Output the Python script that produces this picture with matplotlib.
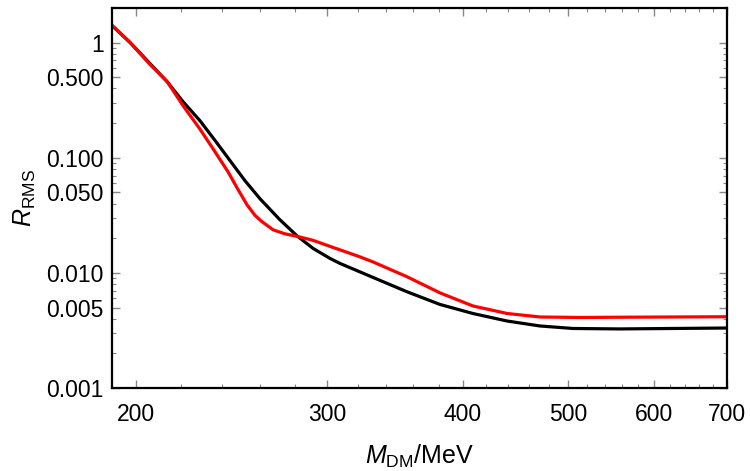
import numpy as np
import matplotlib
matplotlib.use('Agg')
import matplotlib.pyplot as plt
from matplotlib.ticker import FixedLocator, NullFormatter

plt.rcParams['font.family'] = ['Liberation Sans', 'DejaVu Sans']
plt.rcParams['mathtext.fontset'] = 'custom'
plt.rcParams['mathtext.rm'] = 'Liberation Sans'
plt.rcParams['mathtext.it'] = 'Liberation Sans:italic'

# black curve
mass_black = [190.1, 197.5, 206, 213.6, 220.9, 229, 236.9, 244.1, 251.95, 260.1, 271.3,
              281.3, 291, 301.6, 308.1, 330.4, 355.4, 380.9, 408.4, 439.1, 470.7,
              504.8, 557.1, 700]
rrms_black = [1.405, 1.0, 0.657, 0.458, 0.307, 0.2097, 0.1377, 0.0942, 0.0631, 0.0440,
              0.0289, 0.02098, 0.01633, 0.01337, 0.01209, 0.00914, 0.00684, 0.00532,
              0.00444, 0.00382, 0.00346, 0.00329, 0.00326, 0.00332]

# red curve
mass_red = [190.1, 197.5, 206, 213.6, 220.9, 229, 235.4, 243, 247.7, 253, 257.3, 261.2,
            267.4, 274.2, 281.3, 291, 301.6, 308.1, 321.4, 330.4, 355.4, 380.9, 408.4,
            439.1, 470.7, 512.3, 557.1, 700]
rrms_red = [1.405, 1.0, 0.644, 0.458, 0.2833, 0.1769, 0.1197, 0.0755, 0.0548, 0.0390,
            0.0316, 0.0278, 0.02365, 0.02183, 0.02077, 0.01917, 0.01700, 0.01585,
            0.01378, 0.01246, 0.00923, 0.00670, 0.00516, 0.00444, 0.00414, 0.00410,
            0.00412, 0.00416]

xticks = [200, 300, 400, 500, 600, 700]
yticks = [0.001, 0.005, 0.01, 0.05, 0.1, 0.5, 1]
ylabels = ['0.001', '0.005', '0.010', '0.050', '0.100', '0.500', '1']

fig = plt.figure(figsize=(7.5, 4.71), dpi=100)
ax = fig.add_axes([0.1493, 0.1762, 0.82, 0.8068])

ax.plot(mass_black, rrms_black, color='black', lw=2.3, solid_joinstyle='round')
ax.plot(mass_red, rrms_red, color='red', lw=2.3, solid_joinstyle='round')

ax.set_xscale('log')
ax.set_yscale('log')
ax.set_xlim(190, 700)
ax.set_ylim(0.001, 2.0)

ax.xaxis.set_major_locator(FixedLocator(xticks))
ax.set_xticklabels([str(t) for t in xticks])
ax.xaxis.set_minor_locator(FixedLocator([m for m in range(200, 701, 20) if m % 100]))
ax.xaxis.set_minor_formatter(NullFormatter())

ax.yaxis.set_major_locator(FixedLocator(yticks))
ax.set_yticklabels(ylabels)
yminor = [k * 10.0 ** e for e in range(-3, 1) for k in range(2, 10) if k != 5]
ax.yaxis.set_minor_locator(FixedLocator(yminor))
ax.yaxis.set_minor_formatter(NullFormatter())

ax.tick_params(which='both', direction='in', top=True, right=True, labelsize=16.5,
               color='#888888')
ax.tick_params(which='major', length=6, width=1.0)
ax.tick_params(which='minor', length=3, width=0.8)
ax.tick_params(axis='y', which='major', pad=6)
ax.tick_params(axis='x', which='major', pad=11)

for s in ax.spines.values():
    s.set_linewidth(1.6)

ax.set_xlabel(r'$M_{\mathrm{DM}}$/MeV', fontsize=18, labelpad=12)
ax.set_ylabel(r'$R_{\mathrm{RMS}}$', fontsize=18, labelpad=6)

fig.savefig('out.png', dpi=100)
